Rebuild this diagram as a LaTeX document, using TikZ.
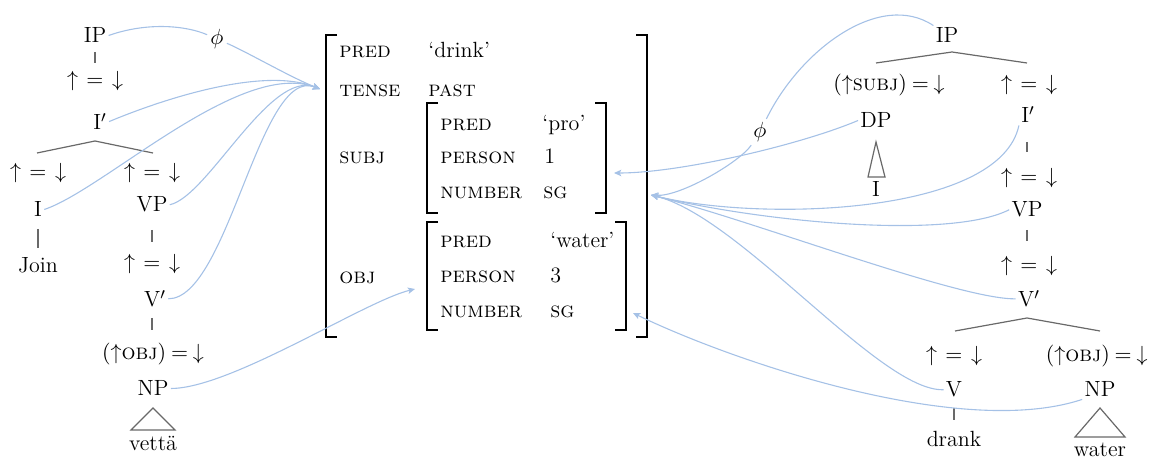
\documentclass[tikz,border=0pt]{standalone}
\usetikzlibrary{arrows.meta,calc}
\definecolor{linkblue}{RGB}{165,193,230}
\definecolor{treegray}{RGB}{105,105,105}
\newcommand\equd{$\mathord\uparrow\mkern7mu\mathord{=}\mkern7mu\mathord\downarrow$}
\newcommand\eqfn[1]{$(\mathord\uparrow\textsc{#1})\mkern4mu\mathord{=}\mkern4mu\mathord\downarrow$}
\begin{document}
\begin{tikzpicture}[x=0.5pt,y=-0.5pt,
  every node/.style={inner sep=1pt, font=\fontsize{11}{13}\selectfont},
  cat/.style={anchor=base},
  eq/.style={anchor=center},
  fa/.style={anchor=base west},
  tree/.style={draw=treegray, line width=0.6pt},
  brk/.style={draw=black, line width=0.7pt},
  conn/.style={draw=linkblue, line width=0.55pt},
  arr/.style={conn, -{Stealth[length=3.6pt,width=3.2pt,inset=0.8pt]}},
  phinode/.style={inner sep=1.5pt},
]
\useasboundingbox (0,0) rectangle (1151,459);

% ---------- left tree ----------
\node[cat] (lIP) at (95,43) {IP};
\node[eq] (lE1) at (95,81) {\equd};
\node[cat] (lIb) at (100,130) {I$'$};
\node[eq] (lE2) at (38,173) {\equd};
\node[eq] (lE3) at (152,173) {\equd};
\node[cat] (lI) at (38,217) {I};
\node[cat] (lVP) at (152,212) {VP};
\node[cat] (lJoin) at (38,273) {Join};
\node[eq] (lE4) at (152,264) {\equd};
\node[cat] (lVb) at (155,307) {V$'$};
\node[eq] (lE5) at (153,354) {\eqfn{obj}};
\node[cat] (lNP) at (153,396) {NP};
\node[cat] (lvet) at (153,451) {vettä};

\draw[tree] ($(lIP.base)+(0,9)$) -- ($(lIP.base)+(0,20)$);
\draw[tree] ($(lE2)+(-1,-20)$) -- ($(lIb.base)+(-5,11)$) -- ($(lE3)+(1,-20)$);
\draw[tree] ($(lI.base)+(0,12)$) -- ($(lI.base)+(0,31)$);
\draw[tree] ($(lVP.base)+(0,18)$) -- ($(lVP.base)+(0,30)$);
\draw[tree] ($(lVb.base)+(-3,11)$) -- ($(lVb.base)+(-3,23)$);
\draw[tree] ($(lNP.base)+(0,12)$) -- ($(lNP.base)+(-22,34)$) -- ($(lNP.base)+(22,34)$) -- cycle;

% ---------- f-structure ----------
\draw[brk] (337,35) -- (326,35) -- (326,337) -- (337,337);
\draw[brk] (636,35) -- (647,35) -- (647,337) -- (636,337);
\draw[brk] (438,103) -- (427,103) -- (427,213) -- (438,213);
\draw[brk] (595,103) -- (606,103) -- (606,213) -- (595,213);
\draw[brk] (438,222) -- (427,222) -- (427,330) -- (438,330);
\draw[brk] (615,222) -- (626,222) -- (626,330) -- (615,330);

\node[fa] (fPred) at (337,58) {\textsc{pred}};
\node[fa] (fPredV) at (426,58) {`drink'};
\node[fa] (fTense) at (337,97) {\textsc{tense}};
\node[fa] (fTenseV) at (426,97) {\textsc{past}};
\node[fa] (fSubj) at (337,164) {\textsc{subj}};
\node[fa] (sPred) at (438,131) {\textsc{pred}};
\node[fa] (sPredV) at (540,131) {`pro'};
\node[fa] (sPers) at (438,164) {\textsc{person}};
\node[fa] (sPersV) at (542,164) {1};
\node[fa] (sNum) at (438,199) {\textsc{number}};
\node[fa] (sNumV) at (541,199) {\textsc{sg}};
\node[fa] (fObj) at (337,284) {\textsc{obj}};
\node[fa] (oPred) at (438,248) {\textsc{pred}};
\node[fa] (oPredV) at (548,248) {`water'};
\node[fa] (oPers) at (438,283) {\textsc{person}};
\node[fa] (oPersV) at (548,283) {3};
\node[fa] (oNum) at (438,318) {\textsc{number}};
\node[fa] (oNumV) at (548,318) {\textsc{sg}};

\coordinate (tL) at (320,89);
\coordinate (tSubj) at (614,173);
\coordinate (tObjL) at (415,289);
\coordinate (tR) at (651,195);
\coordinate (tObjR) at (633,313);

% ---------- right tree ----------
\node[cat] (rIP) at (947,43) {IP};
\node[eq] (rE1) at (889,85) {\eqfn{subj}};
\node[eq] (rE2) at (1029,85) {\equd};
\node[cat] (rDP) at (876,128) {DP};
\node[cat] (rI) at (876,197) {I};
\node[cat] (rIb) at (1028,123) {I$'$};
\node[eq] (rE3) at (1029,178) {\equd};
\node[cat] (rVP) at (1027,217) {VP};
\node[eq] (rE4) at (1029,266) {\equd};
\node[cat] (rVb) at (1029,307) {V$'$};
\node[eq] (rE5) at (954,356) {\equd};
\node[eq,anchor=east] (rE6) at (1150,356) {\eqfn{obj}};
\node[cat] (rV) at (954,397) {V};
\node[cat] (rNP) at (1100,397) {NP};
\node[cat] (rdrank) at (954,447) {drank};
\node[cat] (rwater) at (1100,457) {water};

\draw[tree] ($(rE1)+(-13,-22)$) -- ($(rIP.base)+(5,9)$) -- ($(rE2)+(-2,-22)$);
\draw[tree] ($(rDP.base)+(0,14)$) -- ($(rI.base)+(-8,-20)$) -- ($(rI.base)+(9,-20)$) -- cycle;
\draw[tree] ($(rIb.base)+(-1,19)$) -- ($(rIb.base)+(-1,29)$);
\draw[tree] ($(rVP.base)+(0,13)$) -- ($(rVP.base)+(0,24)$);
\draw[tree] ($(rE5)+(1,-25)$) -- ($(rVb.base)+(-2,11)$) -- ($(rNP.base)+(0,-66)$);
\draw[tree] ($(rV.base)+(0,11)$) -- ($(rV.base)+(0,23)$);
\draw[tree] ($(rNP.base)+(0,11)$) -- ($(rNP.base)+(-25,40)$) -- ($(rNP.base)+(25,40)$) -- cycle;

% ---------- phi labels ----------
\node[phinode] (lphi) at (217,39) {$\phi$};
\node[phinode] (rphi) at (760,132) {$\phi$};

% ---------- correspondence arrows ----------
\draw[conn] (lIP.east) .. controls +(40,-14) and +(-30,-13) .. (lphi);
\draw[arr] (lphi) .. controls +(30,13) and +(-30,-12) .. (tL);
\draw[arr] (lIb.east) .. controls +(60,-25) and +(-55,-22) .. (tL);
\draw[arr] (lI.east) .. controls +(60,-20) and +(-80,-30) .. (tL);
\draw[arr] (lVP.east) .. controls +(38,-8) and +(-50,-20) .. (tL);
\draw[arr] (lVb.east) .. controls +(60,0) and +(-60,-24) .. (tL);
\draw[arr] (lNP.east) .. controls +(60,0) and +(-50,12) .. (tObjL);

\draw[conn] (rIP.north west) .. controls (880,-10) and (800,50) .. (rphi);
\draw[arr] (rphi) .. controls (740,162) and (680,197) .. (tR);
\draw[arr] (rDP.west) .. controls (800,145) and (680,173) .. (tSubj);
\draw[arr] (rIb.south west) .. controls (1000,215) and (761,222) .. (tR);
\draw[arr] (rVP.west) .. controls (950,240) and (761,222) .. (tR);
\draw[arr] (rVb.west) .. controls (960,300) and (751,220) .. (tR);
\draw[arr] (rV.west) .. controls (880,392) and (741,217) .. (tR);
\draw[arr] (rNP.south west) .. controls (960,440) and (730,360) .. (tObjR);
\end{tikzpicture}
\end{document}
